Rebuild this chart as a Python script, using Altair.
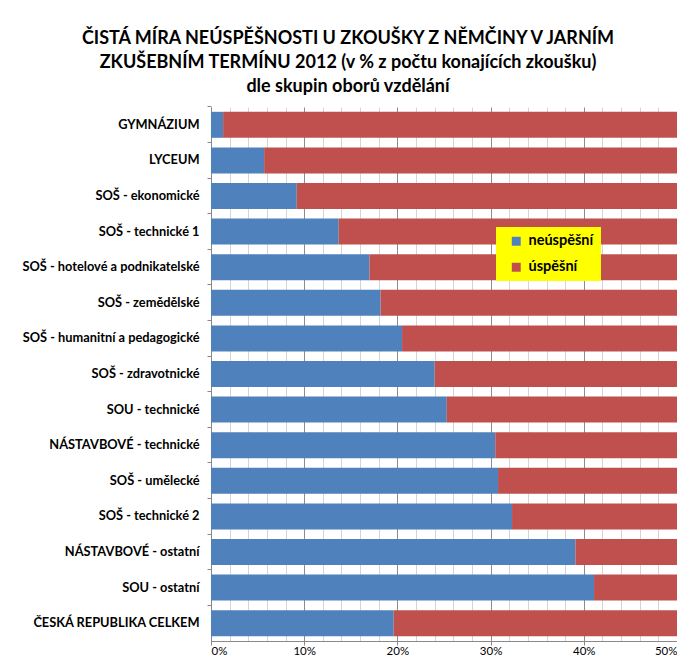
import altair as alt
import pandas as pd

categories = [
    "GYMNÁZIUM",
    "LYCEUM",
    "SOŠ - ekonomické",
    "SOŠ - technické 1",
    "SOŠ - hotelové a podnikatelské",
    "SOŠ - zemědělské",
    "SOŠ - humanitní a pedagogické",
    "SOŠ - zdravotnické",
    "SOU - technické",
    "NÁSTAVBOVÉ - technické",
    "SOŠ - umělecké",
    "SOŠ - technické 2",
    "NÁSTAVBOVÉ - ostatní ",
    "SOU - ostatní",
    "ČESKÁ REPUBLIKA CELKEM",
]
neuspesni = [1.3, 5.7, 9.2, 13.7, 17.0, 18.2, 20.5, 24.0, 25.3, 30.5, 30.8, 32.3, 39.1, 41.1, 19.6]
uspesni = [98.7, 94.3, 90.8, 86.3, 83.0, 81.8, 79.5, 76.0, 74.7, 69.5, 69.2, 67.7, 60.9, 58.9, 80.4]
series = ["neúspěšní", "úspěšní"]
colors = ["#4F81BD", "#C0504D"]
x_tick_values = [0.0, 0.02, 0.04, 0.06, 0.08, 0.10, 0.12, 0.14, 0.16, 0.18, 0.20,
                 0.22, 0.24, 0.26, 0.28, 0.30, 0.32, 0.34, 0.36, 0.38, 0.40,
                 0.42, 0.44, 0.46, 0.48, 0.50]
title_lines = [
    "ČISTÁ MÍRA NEÚSPĚŠNOSTI U ZKOUŠKY Z NĚMČINY V JARNÍM",
    "ZKUŠEBNÍM TERMÍNU 2012 (v % z počtu konajících zkoušku)",
    "dle skupin oborů vzdělání",
]

rows = []
for i, c in enumerate(categories):
    rows.append({"kat": c, "skupina": series[0], "podil": neuspesni[i] / 100, "poradi": 0})
    rows.append({"kat": c, "skupina": series[1], "podil": uspesni[i] / 100, "poradi": 1})
df = pd.DataFrame(rows)

major = "round(datum.value*50) % 5 === 0"

chart = alt.Chart(df).mark_bar(clip=True).encode(
    y=alt.Y(
        "kat:N",
        sort=categories,
        title=None,
        scale=alt.Scale(paddingInner=0.27, paddingOuter=0.135),
        axis=alt.Axis(
            labelFont="Lato",
            labelFontWeight="bold",
            labelFontSize=12.8,
            labelColor="black",
            labelPadding=8,
            labelLimit=300,
            tickSize=4,
            tickColor="#888888",
            domainColor="#888888",
            bandPosition=-0.185,
            grid=False,
        ),
    ),
    x=alt.X(
        "podil:Q",
        stack="zero",
        title=None,
        scale=alt.Scale(domain=[0, 0.5], nice=False, zero=True),
        axis=alt.Axis(
            values=x_tick_values,
            labelExpr=f"{major} ? format(datum.value, '.0%') : ''",
            labelFont="Lato",
            labelFontSize=11.5,
            labelColor="black",
            labelPadding=0,
            domainColor="#888888",
            tickColor="#888888",
            tickSize={"condition": {"test": major, "value": 4}, "value": 0},
            grid=True,
            gridColor={"condition": {"test": major, "value": "#8c8c8c"}, "value": "#d4d4d4"},
            gridWidth=1,
        ),
    ),
    color=alt.Color(
        "skupina:N",
        scale=alt.Scale(domain=series, range=colors),
        legend=alt.Legend(
            title=None,
            orient="none",
            legendX=285,
            legendY=120,
            direction="vertical",
            fillColor="#FFFF00",
            padding=7,
            symbolType="square",
            symbolSize=80,
            symbolStrokeWidth=0,
            symbolOffset=6,
            labelFont="Lato",
            labelFontWeight="bold",
            labelFontSize=14.5,
            labelColor="black",
            labelOffset=5,
            rowPadding=11,
        ),
    ),
    order=alt.Order("poradi:Q"),
).properties(
    width=466,
    height=534,
    title=alt.TitleParams(
        text=title_lines,
        font="Lato",
        fontSize=18,
        fontWeight="bold",
        lineHeight=24,
        anchor="middle",
        dx=-96,
        offset=10,
        color="black",
    ),
    autosize=alt.AutoSizeParams(type="none"),
    padding={"left": 203, "top": 99, "right": 0, "bottom": 17},
).configure_view(strokeWidth=0)

chart.save("out.html", embed_options={"renderer": "svg", "actions": False})
